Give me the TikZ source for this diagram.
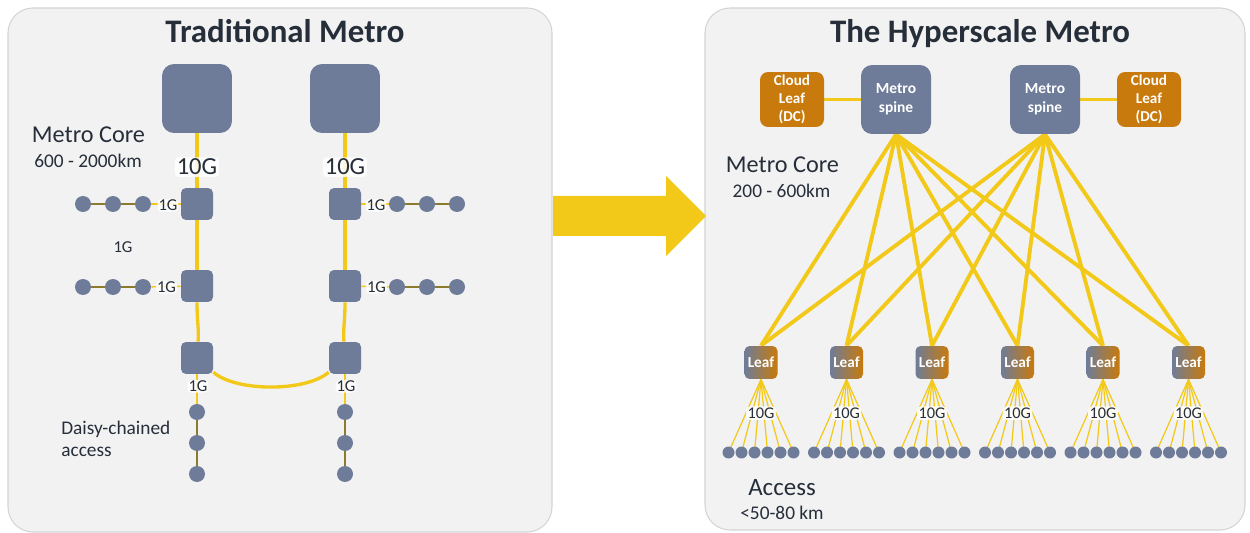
\documentclass[tikz,border=0pt]{standalone}
\usepackage{fontspec}
\setmainfont{Carlito}
\definecolor{panelbg}{HTML}{F2F2F2}
\definecolor{panelln}{HTML}{D4D4D4}
\definecolor{nblue}{HTML}{6E7C99}
\definecolor{norange}{HTML}{C87A0C}
\definecolor{ylw}{HTML}{F2C918}
\definecolor{olv}{HTML}{8C7A2E}
\definecolor{txt}{HTML}{262E3A}
\pgfdeclarelayer{back}
\pgfdeclarelayer{wires}
\pgfsetlayers{back,wires,main}
\begin{document}
\begin{tikzpicture}[x=0.02cm,y=-0.02cm,
  panel/.style={fill=panelbg,draw=panelln,line width=0.6pt,rounded corners=0.5cm},
  bigsq/.style={fill=nblue,minimum width=1.4cm,minimum height=1.38cm,rounded corners=0.24cm,inner sep=0pt},
  smsq/.style={fill=nblue,minimum size=0.64cm,rounded corners=0.1cm,inner sep=0pt},
  bdot/.style={circle,fill=nblue,minimum size=0.32cm,inner sep=0pt},
  adot/.style={circle,fill=nblue,minimum size=0.24cm,inner sep=0pt},
  spinebox/.style={fill=nblue,minimum width=1.4cm,minimum height=1.38cm,rounded corners=0.22cm,inner sep=0pt,
    text=white,align=center,font=\bfseries\fontsize{8.8pt}{10.6pt}\selectfont},
  cloudbox/.style={fill=norange,minimum width=1.28cm,minimum height=1.1cm,rounded corners=0.16cm,inner sep=0pt,
    text=white,align=center,font=\bfseries\fontsize{8.6pt}{10.2pt}\selectfont},
  leafbox/.style={left color=nblue,right color=norange,minimum size=0.66cm,rounded corners=0.1cm,inner sep=0pt,
    text=white,font=\bfseries\fontsize{8.7pt}{10pt}\selectfont},
  ttl/.style={anchor=base,text=txt,font=\bfseries\fontsize{18.7pt}{21pt}\selectfont},
  bigtxt/.style={anchor=base,text=txt,font=\fontsize{13.8pt}{16pt}\selectfont},
  midtxt/.style={anchor=base,text=txt,font=\fontsize{11pt}{13pt}\selectfont},
  glow/.style={anchor=base,text=txt,fill=white,fill opacity=0.85,text opacity=1,inner sep=1pt,rounded corners=2pt},
  tenG/.style={glow,font=\fontsize{14pt}{16pt}\selectfont},
  oneG/.style={glow,font=\fontsize{9.5pt}{11pt}\selectfont,inner sep=0.5pt},
  fanG/.style={glow,font=\fontsize{9.3pt}{10pt}\selectfont,inner sep=0.8pt},
  coreY/.style={draw=ylw,line width=1.9pt},
  spineY/.style={draw=ylw,line width=2.2pt},
  thinY/.style={draw=ylw,line width=0.8pt},
  fanY/.style={draw=ylw,line width=0.7pt},
  chain/.style={draw=olv,line width=0.6pt}]
\useasboundingbox (0,0) rectangle (1250,533);
\begin{pgfonlayer}{back}
  \path[panel] (8,8) rectangle (552,532);
  \path[panel] (705,8) rectangle (1245,530);
  \fill[ylw] (553,196) -- (666,196) -- (666,176) -- (706,216) -- (666,256) -- (666,236) -- (553,236) -- cycle;
\end{pgfonlayer}

% ---------- Traditional Metro ----------
\node[ttl] (t1) at (285,42.3) {Traditional Metro};
\node[bigtxt] (mc1) at (88.5,142.7) {Metro Core};
\node[midtxt] (km1) at (88,168) {600 - 2000km};
\node[bigsq] (c1) at (197,98.5) {};
\node[bigsq] (c2) at (345,98.5) {};
\foreach \r/\y in {1/204,2/286,3/358} {
  \node[smsq] (sl\r) at (197,\y) {};
  \node[smsq] (sr\r) at (345,\y) {};
}
\foreach \r/\y in {1/204,2/287} {
  \foreach \i/\x in {1/83,2/113,3/143} {\node[bdot] (dl\r\i) at (\x,\y) {};}
  \foreach \i/\x in {1/457,2/427,3/397} {\node[bdot] (dr\r\i) at (\x,\y) {};}
}
\foreach \i/\y in {1/412,2/443,3/474} {
  \node[bdot] (bl\i) at (197,\y) {};
  \node[bdot] (br\i) at (345,\y) {};
}
\node[tenG] (g1) at (197,175) {10G};
\node[tenG] (g2) at (345,175) {10G};
\node[oneG] (ol1) at (168,210.7) {1G};
\node[oneG] (or1) at (376,210.7) {1G};
\node[oneG] (ol2) at (166.5,292.7) {1G};
\node[oneG] (or2) at (376.5,292.7) {1G};
\node[anchor=base,text=txt,font=\fontsize{9.5pt}{11pt}\selectfont] (lone) at (123,253) {1G};
\node[oneG] (ob1) at (198,391.7) {1G};
\node[oneG] (ob2) at (346,391.7) {1G};
\node[anchor=base west,text=txt,font=\fontsize{11pt}{13pt}\selectfont,inner sep=0pt] (dc1) at (61,434) {Daisy-chained};
\node[anchor=base west,text=txt,font=\fontsize{11pt}{13pt}\selectfont,inner sep=0pt] (dc2) at (61,456.7) {access};

\begin{pgfonlayer}{wires}
  \draw[coreY] (c1) -- (sl1);
  \draw[coreY] (c2) -- (sr1);
  \draw[coreY] (sl1) -- (sl2);
  \draw[coreY] (sr1) -- (sr2);
  \draw[coreY] (sl2) .. controls (197,322) and (199,328) .. (sl3);
  \draw[coreY] (sr2) .. controls (345,322) and (343,328) .. (sr3);
  \draw[coreY] (sl3) .. controls (236,392) and (306,392) .. (sr3);
  \foreach \r in {1,2} {
    \draw[chain] (dl\r1) -- (dl\r2) -- (dl\r3);
    \draw[thinY] (dl\r3) -- (sl\r);
    \draw[chain] (dr\r1) -- (dr\r2) -- (dr\r3);
    \draw[thinY] (dr\r3) -- (sr\r);
  }
  \draw[thinY] (sl3) -- (bl1);
  \draw[thinY] (sr3) -- (br1);
  \draw[chain] (bl1) -- (bl2) -- (bl3);
  \draw[chain] (br1) -- (br2) -- (br3);
\end{pgfonlayer}

% ---------- Hyperscale Metro ----------
\node[ttl] (t2) at (980,42.3) {The Hyperscale Metro};
\node[bigtxt] (mc2) at (782.5,173) {Metro Core};
\node[midtxt] (km2) at (781.5,198) {200 - 600km};
\node[spinebox] (sp1) at (896,99.5) {Metro\\spine};
\node[spinebox] (sp2) at (1045,99.5) {Metro\\spine};
\node[cloudbox] (cl1) at (792,99.5) {Cloud\\Leaf\\(DC)};
\node[cloudbox] (cl2) at (1149,99.5) {Cloud\\Leaf\\(DC)};
\foreach \i/\x in {1/761,2/846.5,3/932,4/1017.5,5/1103,6/1188.5} {
  \node[leafbox] (lf\i) at (\x,362.5) {Leaf};
  \foreach \j/\dx in {1/-32.5,2/-19.5,3/-6.5,4/6.5,5/19.5,6/32.5} {
    \node[adot] (ad\i\j) at (\x+\dx,452.5) {};
  }
  \node[fanG] (fg\i) at (\x,418.3) {10G};
}
\node[anchor=base,text=txt,font=\fontsize{14.2pt}{16pt}\selectfont] (acc) at (782,495.7) {Access};
\node[midtxt] (acckm) at (782,519.3) {<50-80 km};

\begin{pgfonlayer}{wires}
  \draw[spineY] (cl1) -- (sp1);
  \draw[spineY] (sp2) -- (cl2);
  \foreach \s in {sp1,sp2} {
    \foreach \i in {1,...,6} {
      \draw[spineY] (\s.south) -- (lf\i.north);
    }
  }
  \foreach \i in {1,...,6} {
    \foreach \j in {1,...,6} {
      \draw[fanY] (lf\i.south) -- (ad\i\j.center);
    }
  }
\end{pgfonlayer}
\end{tikzpicture}
\end{document}
